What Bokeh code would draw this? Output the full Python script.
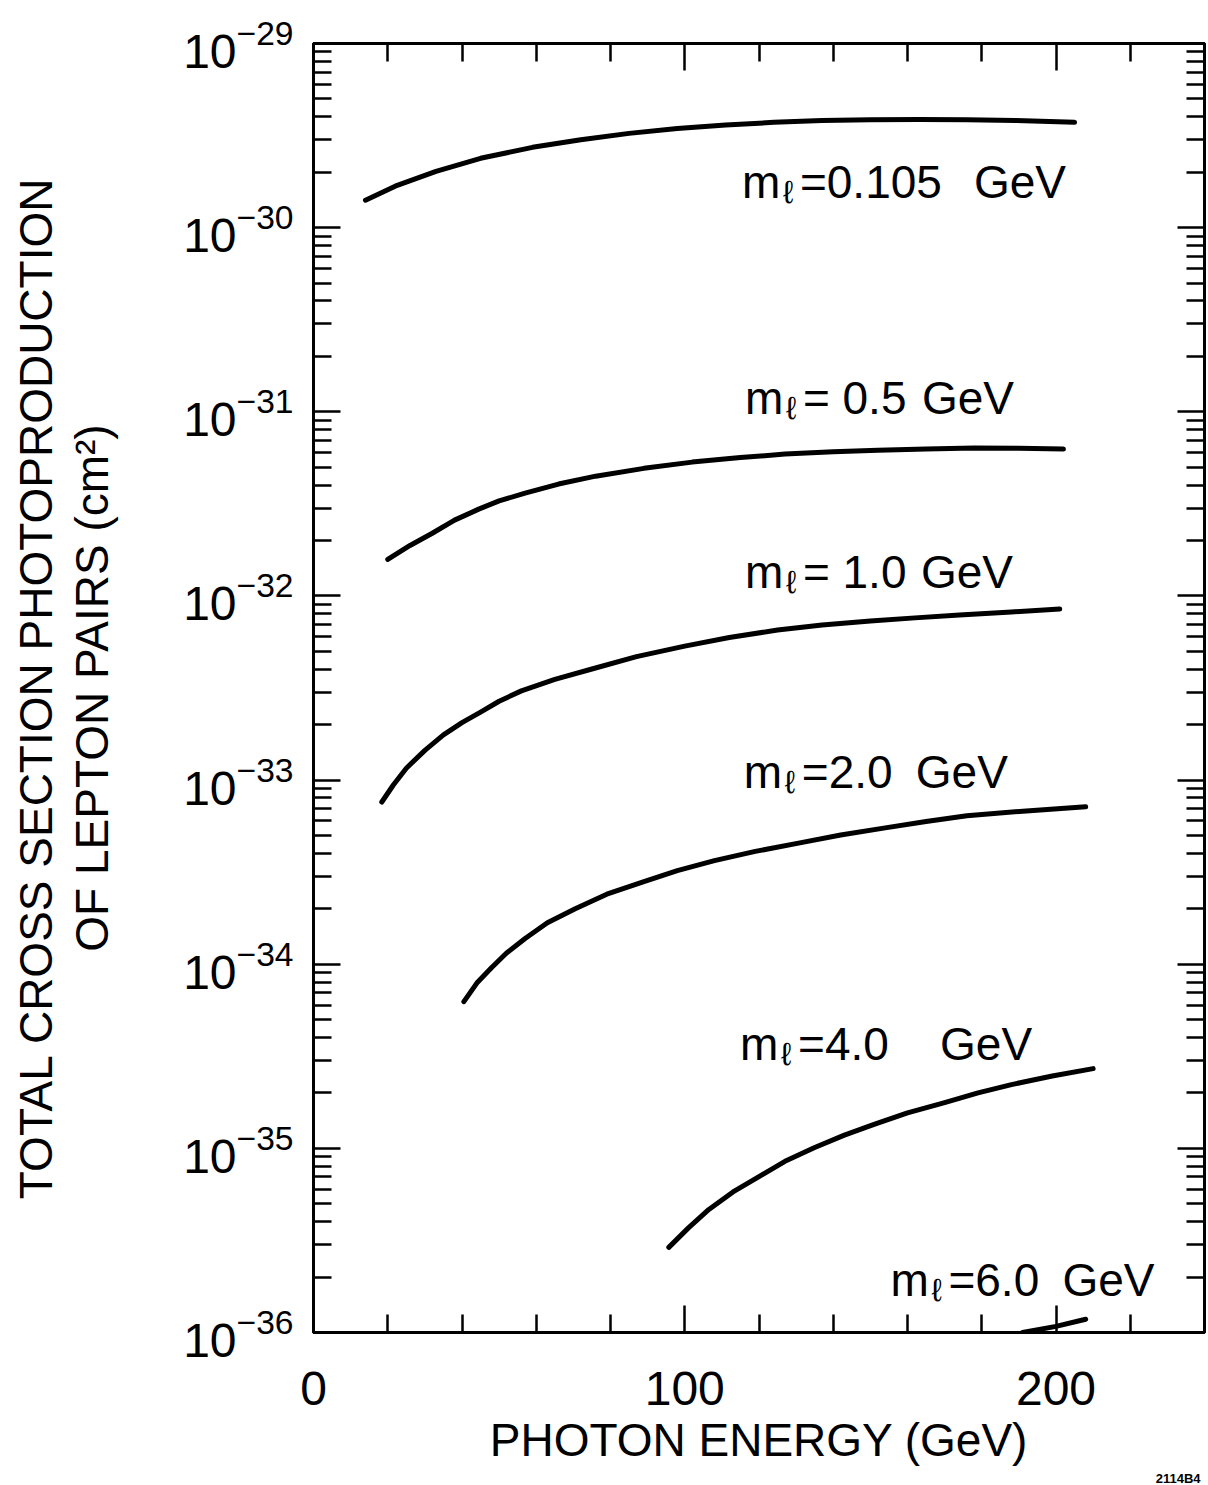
from bokeh.plotting import figure
from bokeh.models import Range1d, FixedTicker, LogAxis, LinearAxis, Label, Title
from bokeh.embed import file_html
from bokeh.resources import INLINE

# ---- data ----
energy_m0105 = [14, 22, 33, 45, 59, 72, 85, 98, 111, 124, 137, 150, 163, 176, 189, 205]
sigma_m0105 = [1.41e-30, 1.68e-30, 2.02e-30, 2.38e-30, 2.73e-30, 3.0e-30, 3.25e-30, 3.45e-30,
               3.61e-30, 3.73e-30, 3.82e-30, 3.86e-30, 3.87e-30, 3.86e-30, 3.82e-30, 3.73e-30]

energy_m05 = [20, 26, 32, 38, 44.5, 50, 57, 66, 76, 89, 102, 115, 127, 140, 152, 165, 178, 190, 202]
sigma_m05 = [1.58e-32, 1.88e-32, 2.19e-32, 2.58e-32, 2.96e-32, 3.28e-32, 3.62e-32, 4.05e-32,
             4.47e-32, 4.93e-32, 5.33e-32, 5.64e-32, 5.89e-32, 6.06e-32, 6.19e-32, 6.28e-32,
             6.35e-32, 6.33e-32, 6.27e-32]

energy_m10 = [18.4, 21.5, 25, 30, 35, 40, 45, 50, 56, 65, 75, 87, 100, 112, 125, 137, 150, 162, 174, 188, 201]
sigma_m10 = [7.6e-34, 9.4e-34, 1.16e-33, 1.45e-33, 1.76e-33, 2.05e-33, 2.34e-33, 2.68e-33,
             3.05e-33, 3.52e-33, 4.01e-33, 4.68e-33, 5.34e-33, 5.95e-33, 6.53e-33, 6.95e-33,
             7.31e-33, 7.60e-33, 7.87e-33, 8.18e-33, 8.49e-33]

energy_m20 = [40.5, 44, 48, 52, 57, 63, 70.5, 79, 89, 98, 108, 119, 131, 142, 154, 165, 176, 192, 208]
sigma_m20 = [6.26e-35, 7.9e-35, 9.6e-35, 1.15e-34, 1.38e-34, 1.68e-34, 2.0e-34, 2.4e-34,
             2.81e-34, 3.22e-34, 3.65e-34, 4.1e-34, 4.56e-34, 5.03e-34, 5.5e-34, 5.96e-34,
             6.4e-34, 6.8e-34, 7.16e-34]

energy_m40 = [95.7, 101, 106.5, 113, 120, 127, 135, 143, 151, 160, 170, 179, 188, 199, 210]
sigma_m40 = [2.9e-36, 3.7e-36, 4.66e-36, 5.8e-36, 7.03e-36, 8.5e-36, 1.01e-35, 1.18e-35,
             1.35e-35, 1.56e-35, 1.77e-35, 2.0e-35, 2.22e-35, 2.47e-35, 2.71e-35]

energy_m60 = [191, 200, 208]
sigma_m60 = [1.0e-36, 1.08e-36, 1.18e-36]

mass_values = ["=0.105", "= 0.5", "= 1.0", "=2.0", "=4.0", "=6.0"]
unit_text = "GeV"

x_major = [0, 100, 200]
x_minor = [20, 40, 60, 80, 120, 140, 160, 180, 220]
y_major = [10.0 ** e for e in range(-36, -28)]
y_minor = [k * 10.0 ** e for e in range(-36, -29) for k in range(2, 10)]

FONT = "Liberation Sans"

p = figure(width=1208, height=1485, y_axis_type="log",
           x_range=Range1d(0, 240), y_range=Range1d(1e-36, 1e-29),
           output_backend="svg", toolbar_location=None,
           x_axis_location=None, y_axis_location=None,
           min_border_left=313, min_border_top=43, min_border_right=4,
           min_border_bottom=152)
p.grid.visible = False
p.outline_line_color = "black"
p.outline_line_width = 3
p.background_fill_color = "white"
p.border_fill_color = "white"

xt = FixedTicker(ticks=x_major, minor_ticks=x_minor)
yt = FixedTicker(ticks=y_major, minor_ticks=y_minor)


def style_axis(ax, show_labels):
    ax.axis_line_width = 3
    ax.axis_line_color = "black"
    ax.major_tick_in = 27
    ax.major_tick_out = 0
    ax.minor_tick_in = 18
    ax.minor_tick_out = 0
    ax.major_tick_line_width = 2.5
    ax.minor_tick_line_width = 2.5
    ax.major_label_text_font = FONT
    ax.axis_label_text_font = FONT
    ax.axis_label_text_font_style = "normal"
    ax.axis_label_text_color = "black"
    if show_labels:
        ax.major_label_text_font_size = "48px"
        ax.major_label_text_color = "black"
    else:
        ax.major_label_text_font_size = "1px"
        ax.major_label_text_color = None
        ax.major_label_standoff = 0


bottom = LinearAxis(ticker=xt, axis_label="PHOTON ENERGY (GeV)")
style_axis(bottom, True)
bottom.major_label_standoff = 39
bottom.axis_label_standoff = 6
bottom.axis_label_text_font_size = "46px"
p.add_layout(bottom, "below")

p.add_layout(Title(text="2114B4", align="right", text_font=FONT, text_font_size="13px",
                   text_font_style="bold", text_color="black", standoff=0, offset=4), "below")

top = LinearAxis(ticker=xt)
style_axis(top, False)
p.add_layout(top, "above")

left = LogAxis(ticker=yt, axis_label="OF LEPTON PAIRS (cm²)")
style_axis(left, True)
left.major_label_standoff = 20
left.axis_label_standoff = 62
left.axis_label_text_font_size = "46px"
p.add_layout(left, "left")

left2 = LinearAxis(ticker=FixedTicker(ticks=[]), axis_label="TOTAL CROSS SECTION PHOTOPRODUCTION")
style_axis(left2, False)
left2.axis_line_color = None
left2.axis_label_standoff = 2
left2.axis_label_text_font_size = "46px"
p.add_layout(left2, "left")

right = LogAxis(ticker=yt)
style_axis(right, False)
p.add_layout(right, "right")

curves = [(energy_m0105, sigma_m0105), (energy_m05, sigma_m05), (energy_m10, sigma_m10),
          (energy_m20, sigma_m20), (energy_m40, sigma_m40), (energy_m60, sigma_m60)]
for xs, ys in curves:
    p.line(xs, ys, line_color="black", line_width=5, line_cap="round", line_join="round")

# label anchors (left of "m", baseline) and offset of "GeV" in px
label_pos = [(115.4, 1.766e-30, 232), (116.2, 1.185e-31, 177), (116.2, 1.35e-32, 176),
             (115.9, 1.108e-33, 172), (114.9, 3.7e-35, 200), (155.4, 1.93e-36, 172)]
for (lx, ly, gx), txt in zip(label_pos, mass_values):
    common = dict(x=lx, y=ly, text_font=FONT, text_color="black", text_baseline="alphabetic")
    p.add_layout(Label(text="m", text_font_size="46px", **common))
    p.add_layout(Label(text="ℓ", text_font_size="32px", x_offset=41, y_offset=-10, **common))
    p.add_layout(Label(text=txt, text_font_size="46px", x_offset=58, **common))
    p.add_layout(Label(text=unit_text, text_font_size="46px", x_offset=gx, **common))

open("out.html", "w").write(file_html(p, INLINE))
